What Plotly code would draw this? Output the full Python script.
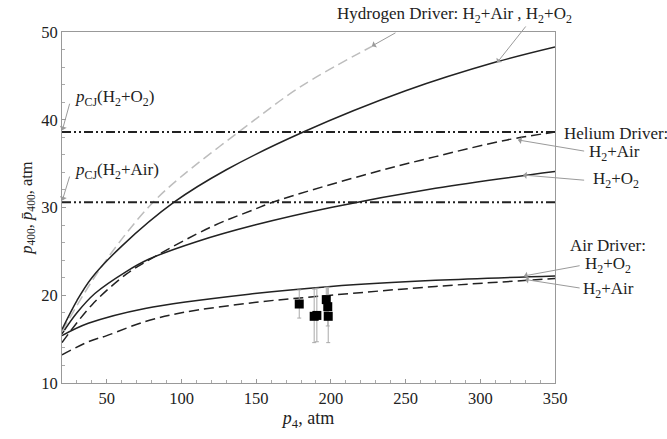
import plotly.graph_objects as go

# Hydrogen driver
h2_o2_x = [20, 30, 40, 60, 95, 130, 181.5, 250, 311, 350]
h2_o2_y = [16.1, 19.4, 22.0, 25.6, 30.6, 34.3, 38.6, 43.3, 46.6, 48.3]
h2_air_x = [20, 40, 60, 81, 99, 139, 180, 229]
h2_air_y = [15.9, 21.6, 26.4, 30.6, 33.4, 38.7, 43.8, 48.5]
# Helium driver
he_o2_x = [20, 30, 42, 63, 78, 110, 149, 200, 270, 350]
he_o2_y = [15.6, 18.0, 20.2, 22.7, 24.1, 26.1, 28.0, 30.0, 32.2, 34.1]
he_air_x = [20, 40, 63, 78, 120, 149, 161, 220, 270, 318, 350]
he_air_y = [14.6, 18.9, 22.4, 24.0, 27.8, 29.8, 30.6, 33.6, 35.8, 37.7, 38.6]
# Air driver
air_o2_x = [20, 37.6, 75.6, 149, 200, 270, 350]
air_o2_y = [15.4, 16.8, 18.5, 20.2, 21.0, 21.7, 22.2]
air_air_x = [20, 37.6, 50, 75.6, 100, 150, 200, 270, 350]
air_air_y = [13.2, 14.7, 15.4, 17.0, 18.0, 19.2, 20.0, 21.0, 21.9]
# CJ pressures
pcj_o2 = 38.6
pcj_air = 30.6
# Experimental points
exp_x = [178.8, 188.8, 190.6, 196.9, 197.9, 198.2]
exp_y = [19.0, 17.6, 17.7, 19.5, 18.7, 17.6]
exp_err_plus = [1.6, 3.1, 3.1, 1.4, 2.2, 3.3]
exp_err_minus = [1.6, 3.0, 3.0, 1.4, 2.2, 3.0]

fig = go.Figure()
blk = "#222222"
fig.add_trace(go.Scatter(x=h2_air_x, y=h2_air_y, mode="lines", line=dict(color="#bdbdbd", width=1.5, dash="10px,5px", shape="spline")))
fig.add_trace(go.Scatter(x=h2_o2_x, y=h2_o2_y, mode="lines", line=dict(color=blk, width=1.5, shape="spline")))
fig.add_trace(go.Scatter(x=he_o2_x, y=he_o2_y, mode="lines", line=dict(color=blk, width=1.5, shape="spline")))
fig.add_trace(go.Scatter(x=he_air_x, y=he_air_y, mode="lines", line=dict(color=blk, width=1.5, dash="10px,5px", shape="spline")))
fig.add_trace(go.Scatter(x=air_o2_x, y=air_o2_y, mode="lines", line=dict(color=blk, width=1.5, shape="spline")))
fig.add_trace(go.Scatter(x=air_air_x, y=air_air_y, mode="lines", line=dict(color=blk, width=1.5, dash="10px,5px", shape="spline")))
for v in (pcj_o2, pcj_air):
    fig.add_trace(go.Scatter(x=[20, 350], y=[v, v], mode="lines",
                             line=dict(color=blk, width=2, dash="9px,3px,2px,3px,2px,3px")))
fig.add_trace(go.Scatter(x=exp_x, y=exp_y, mode="markers",
                         marker=dict(symbol="square", size=9, color="black"),
                         error_y=dict(type="data", array=exp_err_plus, arrayminus=exp_err_minus,
                                      color="#aaaaaa", thickness=1, width=2)))

font = "Liberation Serif"
fig.update_layout(
    width=667, height=439, showlegend=False,
    margin=dict(l=62, r=112, t=32, b=56),
    plot_bgcolor="white", paper_bgcolor="white",
    font=dict(family=font, size=16, color="#222"),
)
axis_common = dict(showgrid=False, zeroline=False, showline=True, linecolor="#999999",
                   linewidth=1, mirror=True, ticks="inside", ticklen=4, tickcolor="#999999",
                   tickfont=dict(family=font, size=16.5, color="#222"))
fig.update_xaxes(range=[20, 350], tickvals=[50, 100, 150, 200, 250, 300, 350],
                 minor=dict(dtick=10, ticks="inside", ticklen=3, tickcolor="#aaaaaa"),
                 title=dict(text="<i>p</i><sub>4</sub>, atm", font=dict(family=font, size=18), standoff=2),
                 **axis_common)
fig.update_yaxes(range=[10, 50], tickvals=[10, 20, 30, 40, 50],
                 minor=dict(dtick=2, ticks="inside", ticklen=3, tickcolor="#aaaaaa"),
                 title=dict(text="<i>p</i><sub>400</sub>, <i>p̄</i><sub>400</sub>, atm", font=dict(family=font, size=16.5), standoff=4),
                 **axis_common)

arrow_col = "#9a9a9a"
def arrow(tx, ty, hx, hy):
    fig.add_annotation(x=hx, y=hy, ax=tx, ay=ty, xref="x", yref="y", axref="x", ayref="y",
                       text="", showarrow=True, arrowhead=1, arrowsize=1.2, arrowwidth=1,
                       arrowcolor=arrow_col)

def label(px, py, text, anchor="center"):
    fig.add_annotation(x=(px - 62) / 493, y=(383 - py) / 351, xref="paper", yref="paper",
                       text=text, showarrow=False,
                       xanchor=anchor, yanchor="middle", font=dict(family=font, size=17, color="#222"))

label(454, 15, "Hydrogen Driver: H<sub>2</sub>+Air , H<sub>2</sub>+O<sub>2</sub>")
arrow(244.2, 50.0, 227.5, 48.4)
arrow(331.2, 50.8, 311.2, 46.5)
label(73, 98, "<i>p</i><sub>CJ</sub>(H<sub>2</sub>+O<sub>2</sub>)", "left")
arrow(25.4, 42.0, 20.2, 38.8)
label(73, 171, "<i>p</i><sub>CJ</sub>(H<sub>2</sub>+Air)", "left")
arrow(25.4, 33.7, 20.2, 30.8)
label(562, 133, "Helium Driver:", "left")
label(614, 153, "H<sub>2</sub>+Air")
arrow(370.5, 36.4, 325.2, 37.7)
label(616, 180, "H<sub>2</sub>+O<sub>2</sub>")
arrow(370.5, 33.1, 328.6, 33.7)
label(608, 245, "Air Driver:")
label(608, 265, "H<sub>2</sub>+O<sub>2</sub>")
arrow(367.5, 23.4, 329.2, 22.2)
label(608, 290, "H<sub>2</sub>+Air")
arrow(367.5, 20.8, 329.9, 21.8)

fig.write_html("out.html")
